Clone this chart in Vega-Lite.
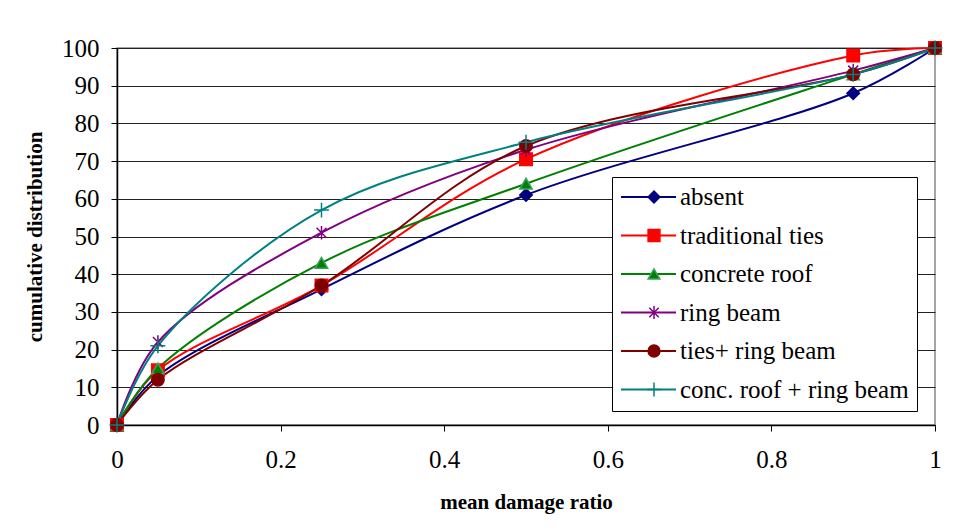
{
  "$schema": "https://vega.github.io/schema/vega-lite/v6.json",
  "width": 818,
  "height": 377,
  "autosize": {"type": "none"},
  "padding": {"left": 117, "top": 48, "right": 22, "bottom": 103},
  "background": "white",
  "config": {
    "view": {"stroke": "#888888", "strokeWidth": 1.5},
    "font": "Liberation Serif",
    "axis": {
      "labelFont": "Liberation Serif",
      "labelFontSize": 25,
      "labelColor": "black",
      "labelFlush": false,
      "titleFont": "Liberation Serif",
      "titleFontSize": 21,
      "titleFontWeight": "bold",
      "titleColor": "black",
      "domainColor": "black",
      "domainWidth": 1.5,
      "tickColor": "black",
      "tickSize": 6,
      "gridColor": "#222222",
      "gridWidth": 1
    }
  },
  "data": {
    "values": [
      {"type": "absent", "ratio": 0, "cum": 0},
      {"type": "absent", "ratio": 0.05, "cum": 13},
      {"type": "absent", "ratio": 0.25, "cum": 36},
      {"type": "absent", "ratio": 0.5, "cum": 61},
      {"type": "absent", "ratio": 0.9, "cum": 88},
      {"type": "absent", "ratio": 1, "cum": 100},
      {"type": "traditional ties", "ratio": 0, "cum": 0},
      {"type": "traditional ties", "ratio": 0.05, "cum": 14.5},
      {"type": "traditional ties", "ratio": 0.25, "cum": 37},
      {"type": "traditional ties", "ratio": 0.5, "cum": 70.5},
      {"type": "traditional ties", "ratio": 0.9, "cum": 98},
      {"type": "traditional ties", "ratio": 1, "cum": 100},
      {"type": "concrete roof", "ratio": 0, "cum": 0},
      {"type": "concrete roof", "ratio": 0.05, "cum": 15},
      {"type": "concrete roof", "ratio": 0.25, "cum": 43},
      {"type": "concrete roof", "ratio": 0.5, "cum": 64},
      {"type": "concrete roof", "ratio": 0.9, "cum": 93},
      {"type": "concrete roof", "ratio": 1, "cum": 100},
      {"type": "ring beam", "ratio": 0, "cum": 0},
      {"type": "ring beam", "ratio": 0.05, "cum": 22},
      {"type": "ring beam", "ratio": 0.25, "cum": 51},
      {"type": "ring beam", "ratio": 0.5, "cum": 73},
      {"type": "ring beam", "ratio": 0.9, "cum": 94},
      {"type": "ring beam", "ratio": 1, "cum": 100},
      {"type": "ties+ ring beam", "ratio": 0, "cum": 0},
      {"type": "ties+ ring beam", "ratio": 0.05, "cum": 12},
      {"type": "ties+ ring beam", "ratio": 0.25, "cum": 37},
      {"type": "ties+ ring beam", "ratio": 0.5, "cum": 74},
      {"type": "ties+ ring beam", "ratio": 0.9, "cum": 93},
      {"type": "ties+ ring beam", "ratio": 1, "cum": 100},
      {"type": "conc. roof + ring beam", "ratio": 0, "cum": 0},
      {"type": "conc. roof + ring beam", "ratio": 0.05, "cum": 21},
      {"type": "conc. roof + ring beam", "ratio": 0.25, "cum": 57},
      {"type": "conc. roof + ring beam", "ratio": 0.5, "cum": 75},
      {"type": "conc. roof + ring beam", "ratio": 0.9, "cum": 93},
      {"type": "conc. roof + ring beam", "ratio": 1, "cum": 100}
    ]
  },
  "encoding": {
    "x": {
      "field": "ratio",
      "type": "quantitative",
      "scale": {"domain": [0, 1], "nice": false},
      "axis": {
        "values": [0, 0.2, 0.4, 0.6, 0.8, 1],
        "format": "~g",
        "grid": false,
        "labelPadding": 16,
        "title": "mean damage ratio",
        "titlePadding": 19
      }
    },
    "y": {
      "field": "cum",
      "type": "quantitative",
      "scale": {"domain": [0, 100], "nice": false},
      "axis": {
        "values": [0, 10, 20, 30, 40, 50, 60, 70, 80, 90, 100],
        "grid": true,
        "labelPadding": 12,
        "title": "cumulative distribution",
        "titlePadding": 16
      }
    }
  },
  "layer": [
    {
      "mark": {"type": "line", "interpolate": "catmull-rom", "strokeWidth": 2, "clip": false},
      "encoding": {
        "color": {
          "field": "type",
          "type": "nominal",
          "sort": ["absent", "traditional ties", "concrete roof", "ring beam", "ties+ ring beam", "conc. roof + ring beam"],
          "scale": {
            "range": ["#000080", "#FF0000", "#008000", "#800080", "#800000", "#008080"]
          },
          "legend": {
            "title": null,
            "orient": "none",
            "legendX": 495,
            "legendY": 129,
            "direction": "vertical",
            "symbolType": "stroke",
            "symbolSize": 3025,
            "symbolStrokeWidth": 2,
            "clipHeight": 24,
            "labelFont": "Liberation Serif",
            "labelFontSize": 25,
            "labelColor": "black",
            "labelOffset": 3,
            "labelLimit": 400,
            "padding": 8,
            "rowPadding": 13.5,
            "symbolOffset": 0,
            "strokeColor": "black",
            "fillColor": "white"
          }
        }
      }
    },
    {
      "mark": {"type": "point", "opacity": 1, "strokeWidth": 1.5, "size": 155},
      "encoding": {
        "fill": {
          "field": "type",
          "type": "nominal",
          "scale": {
            "domain": ["absent", "traditional ties", "concrete roof", "ring beam", "ties+ ring beam", "conc. roof + ring beam"],
            "range": ["#000080", "#FF0000", "#008000", "#800080", "#800000", "#008080"]
          },
          "legend": {
            "title": null,
            "orient": "none",
            "legendX": 516.5,
            "legendY": 129,
            "direction": "vertical",
            "symbolSize": 140,
            "symbolStrokeWidth": 1.5,
            "symbolOpacity": 1,
            "clipHeight": 24,
            "labelFont": "Liberation Serif",
            "labelFontSize": 25,
            "labelOpacity": 0,
            "labelOffset": 3,
            "labelLimit": 400,
            "padding": 8,
            "rowPadding": 13.5,
            "symbolOffset": 0
          }
        },
        "stroke": {
          "field": "type",
          "type": "nominal",
          "scale": {
            "domain": ["absent", "traditional ties", "concrete roof", "ring beam", "ties+ ring beam", "conc. roof + ring beam"],
            "range": ["#000080", "#FF0000", "#3CA060", "#800080", "#800000", "#008080"]
          },
          "legend": {
            "title": null,
            "orient": "none",
            "legendX": 516.5,
            "legendY": 129,
            "direction": "vertical",
            "symbolSize": 140,
            "symbolStrokeWidth": 1.5,
            "symbolOpacity": 1,
            "clipHeight": 24,
            "labelFont": "Liberation Serif",
            "labelFontSize": 25,
            "labelOpacity": 0,
            "labelOffset": 3,
            "labelLimit": 400,
            "padding": 8,
            "rowPadding": 13.5,
            "symbolOffset": 0
          }
        },
        "shape": {
          "field": "type",
          "type": "nominal",
          "scale": {
            "domain": ["absent", "traditional ties", "concrete roof", "ring beam", "ties+ ring beam", "conc. roof + ring beam"],
            "range": ["diamond", "square", "triangle-up", "M-0.8,-0.8L0.8,0.8M-0.8,0.8L0.8,-0.8M0,-1.1V1.1", "circle", "M-1.2,0H1.2M0,-1.2V1.2"]
          },
          "legend": {
            "title": null,
            "orient": "none",
            "legendX": 516.5,
            "legendY": 129,
            "direction": "vertical",
            "symbolSize": 140,
            "symbolStrokeWidth": 1.5,
            "symbolOpacity": 1,
            "clipHeight": 24,
            "labelFont": "Liberation Serif",
            "labelFontSize": 25,
            "labelOpacity": 0,
            "labelOffset": 3,
            "labelLimit": 400,
            "padding": 8,
            "rowPadding": 13.5,
            "symbolOffset": 0
          }
        }
      }
    }
  ]
}
